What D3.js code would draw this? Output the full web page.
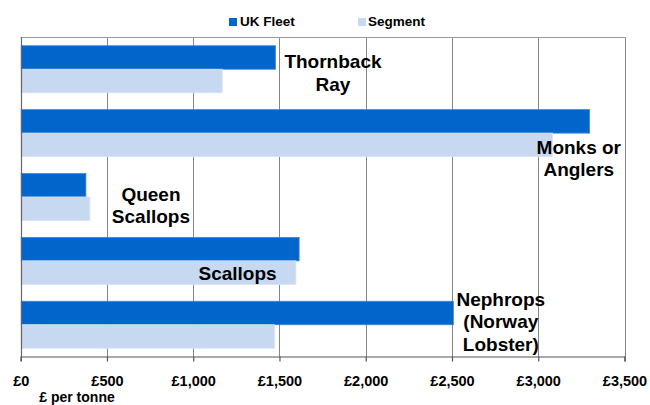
<!DOCTYPE html>
<html>
<head>
<meta charset="utf-8">
<script src="https://cdn.jsdelivr.net/npm/d3@7"></script>
<style>
  html, body { margin: 0; padding: 0; background: #fff; }
  svg { display: block; font-family: "Liberation Sans", Arial, sans-serif; }
</style>
</head>
<body>
<svg id="chart" width="650" height="405"></svg>
<script>
// ---- data ----
const categories = ["Thornback Ray", "Monks or Anglers", "Queen Scallops", "Scallops", "Nephrops (Norway Lobster)"];
const seriesNames = ["UK Fleet", "Segment"];
const ukFleet = [1477, 3298, 378, 1614, 2508];
const segment = [1168, 3082, 401, 1595, 1471];
const tickValues = [0, 500, 1000, 1500, 2000, 2500, 3000, 3500];
const tickLabels = ["£0", "£500", "£1,000", "£1,500", "£2,000", "£2,500", "£3,000", "£3,500"];
const labelLines = [["Thornback", "Ray"], ["Monks or", "Anglers"], ["Queen", "Scallops"], ["Scallops"], ["Nephrops", "(Norway", "Lobster)"]];
const labelValue = [1810, 3235, 755, 1257, 2783];   // label centre, in £
const labelBandPos = [0.485, 0.827, 0.557, 0.798, 0.207]; // first baseline, fraction of category band
const axisTitle = "£ per tonne";

(function () {
// ---- layout ----
const colors = ["#0066CC", "#C6D9F0"];
const strokes = ["#3F88D8", "#D5E3F5"];
const pLeft = 20.7, pRight = 624.5, pTop = 37.3, pBottom = 356.7;

const svg = d3.select("#chart");

const x = d3.scaleLinear().domain([0, 3500]).range([pLeft, pRight]);
const y = d3.scaleBand().domain(categories).range([pTop, pBottom])
  .paddingInner(0.264).paddingOuter(0.132);
const ySub = d3.scaleBand().domain(seriesNames).range([0, y.bandwidth()]).padding(0);
const bandStart = d => y(d) - y.step() * y.paddingInner() / 2;

const rows = categories.map((c, i) => ({ cat: c, vals: [ukFleet[i], segment[i]] }));

// gridlines
svg.append("g").selectAll("line").data(tickValues.filter(v => v > 0)).join("line")
  .attr("x1", d => Math.round(x(d)) + 0.5).attr("x2", d => Math.round(x(d)) + 0.5)
  .attr("y1", pTop).attr("y2", pBottom)
  .attr("stroke", "#858585").attr("stroke-width", 1);
// top border
svg.append("line")
  .attr("x1", pLeft).attr("x2", Math.round(x(3500)) + 0.5)
  .attr("y1", Math.round(pTop) + 0.5).attr("y2", Math.round(pTop) + 0.5)
  .attr("stroke", "#9a9a9a").attr("stroke-width", 1.2);

// bars
const groups = svg.append("g").selectAll("g").data(rows).join("g")
  .attr("transform", d => `translate(0,${y(d.cat)})`);
groups.selectAll("rect").data(d => d.vals.map((v, j) => ({ v, s: seriesNames[j], j }))).join("rect")
  .attr("x", x(0) + 0.5)
  .attr("y", d => ySub(d.s))
  .attr("width", d => x(d.v) - x(0) - 0.5)
  .attr("height", ySub.bandwidth())
  .attr("fill", d => colors[d.j])
  .attr("stroke", d => strokes[d.j])
  .attr("stroke-width", 0.8);

// left axis line
svg.append("line")
  .attr("x1", Math.round(pLeft) + 0.5).attr("x2", Math.round(pLeft) + 0.5)
  .attr("y1", pTop).attr("y2", pBottom)
  .attr("stroke", "#666").attr("stroke-width", 1.2);

// bottom axis
const xAxis = d3.axisBottom(x).tickValues(tickValues)
  .tickFormat((d, i) => tickLabels[i]).tickSize(5).tickPadding(14);
const gx = svg.append("g").attr("transform", `translate(0,${Math.round(pBottom) - 0.5})`).call(xAxis);
gx.select(".domain").attr("stroke", "#555").attr("stroke-width", 1.2);
gx.selectAll(".tick line").attr("stroke", "#555").attr("stroke-width", 1.2);
gx.selectAll(".tick text")
  .attr("font-family", "'Liberation Sans', Arial, sans-serif")
  .attr("font-size", "14.5px").attr("font-weight", "bold").attr("fill", "#000");

svg.append("text").attr("x", 77).attr("y", 402)
  .attr("text-anchor", "middle").attr("font-size", "14px").attr("font-weight", "bold")
  .text(axisTitle);

// category labels
const lab = svg.append("g").selectAll("text").data(categories).join("text")
  .attr("text-anchor", "middle")
  .attr("font-size", "19px").attr("font-weight", "bold").attr("fill", "#000")
  .attr("transform", (d, i) => `translate(${x(labelValue[i])},${bandStart(d) + labelBandPos[i] * y.step()})`);
lab.selectAll("tspan").data((d, i) => labelLines[i]).join("tspan")
  .attr("x", 0).attr("y", (d, k) => k * 22.4).text(d => d);

// legend
const legendX = [229, 358];
const lg = svg.append("g").selectAll("g").data(seriesNames).join("g")
  .attr("transform", (d, i) => `translate(${legendX[i]},18)`);
lg.append("rect").attr("width", 8).attr("height", 8).attr("fill", (d, i) => colors[i]);
lg.append("text").attr("x", (d, i) => i === 0 ? 11 : 10).attr("y", 8)
  .attr("font-size", "13.5px").attr("font-weight", "bold").attr("fill", "#000")
  .text(d => d);
})();
</script>
</body>
</html>
